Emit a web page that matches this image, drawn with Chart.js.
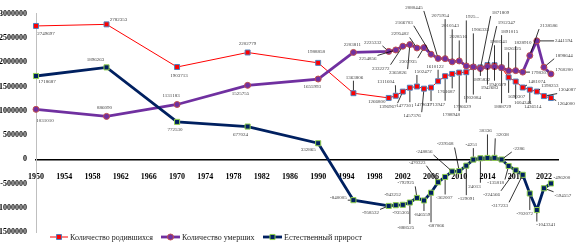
<!DOCTYPE html>
<html><head><meta charset="utf-8">
<script src="https://cdn.jsdelivr.net/npm/chart.js@4.4.1/dist/chart.umd.min.js"></script>
<style>html,body{margin:0;padding:0;background:#fff;overflow:hidden}#c{display:block}</style>
</head><body>
<canvas id="c" width="582" height="246" style="width:582px;height:246px"></canvas>
<script>
const years = [1950,1960,1970,1980,1990,1995,2000,2001,2002,2003,2004,2005,2006,2007,2008,2009,2010,2011,2012,2013,2014,2015,2016,2017,2018,2019,2020,2021,2022,2023];
const births = [2749697,2782353,1903713,2202779,1988858,1363806,1266800,1311604,1396967,1477301,1502477,1457376,1479637,1610122,1713947,1761687,1788948,1796629,1902084,1895822,1942683,1940579,1888729,1690307,1604344,1481074,1436514,1398253,1304087,1264000];
const deaths = [1031010,886090,1131183,1525755,1655993,2203811,2225332,2254856,2332272,2365826,2295402,2303935,2166703,2080445,2075954,2010543,2028516,1925720,1906335,1871809,1912347,1908541,1891015,1826125,1828910,1798307,2138586,2441594,1898644,1760200];
const natural = [1718687,1896263,772530,677024,332865,-840005,-958532,-943252,-935305,-888525,-792925,-846559,-687066,-470323,-362007,-248856,-239568,-129091,-4251,24013,30336,32038,-2286,-135818,-224566,-317233,-702072,-1043341,-594557,-496200];
const xTickLabels = [1950,1954,1958,1962,1966,1970,1974,1978,1982,1986,1990,1994,1998,2002,2006,2010,2014,2018,2022];
const yTickLabels = [-1500000,-1000000,-500000,0,500000,1000000,1500000,2000000,2500000,3000000];
const seriesNames = ['Количество родившихся','Количество умерших','Естественный прирост'];
const truncatedDeathLabel = {index: 17, text: '1925...'};

// label placement offsets (layout only, px relative to each point)
const birthOff = [[10,8],[12,-5],[2,9],[0,-9],[-2,-11],[1,-16],[-12,4],[-10,-14],[-15,15],[-5,18],[6,-15],[-12,27],[-8,17],[-3,-15],[-9,28],[-6,18],[-8,42],[-4,34],[-1,31],[1,12],[2,23],[3,19],[1,39],[8,19],[7,21],[14,-6],[3,17],[13,-6],[23,-6],[15,6]];
const deathOff = [[9,11],[-2,-9],[-6,-9],[-7,8],[-6,8],[-1,-8],[-16,-9],[-28,9],[-22,22],[-12,28],[-17,-14],[-16,14],[-27,-32],[-24,-51],[-5,-43],[-2,-36],[-1,-24],[6,-49],[7,-37],[20,-56],[19,-44],[4,-25],[8,-36],[4,-22],[7,-28],[17,1],[19,-30],[27,0],[20,-12],[13,-4]];
const natOff = [[11,6],[-11,-8],[-2,8],[-7,8],[-10,6],[-15,-2],[-18,7],[-3,-10],[-2,8],[-4,25],[-11,-15],[-2,14],[5,33],[-21,-20],[-1,21],[-28,-20],[-14,-27],[0,33],[-2,-15],[-6,28],[-2,-27],[8,-23],[17,-11],[-13,17],[-24,24],[-23,31],[-5,20],[9,15],[19,7],[11,-6]];
const offsets = [birthOff, deathOff, natOff];

const styles = [
  {line:'#ff0000', lw:1, fill:'#ff0000', border:'#4f81bd', shape:'rect', r:3.5},
  {line:'#7030a0', lw:2.8, fill:'#7030a0', border:'#c0504d', shape:'circle', r:3},
  {line:'#002060', lw:2.8, fill:'#002060', border:'#92d050', shape:'rect', r:3.6}
];
const seriesData = [births, deaths, natural];

const datasets = seriesData.map((arr, k) => ({
  label: seriesNames[k],
  data: years.map((y, i) => ({x: y, y: arr[i]})),
  borderColor: styles[k].line,
  borderWidth: styles[k].lw,
  backgroundColor: styles[k].fill,
  pointStyle: styles[k].shape,
  pointRadius: styles[k].r,
  pointBackgroundColor: styles[k].fill,
  pointBorderColor: styles[k].border,
  pointBorderWidth: 1,
  tension: 0,
  order: 2 - k,
  clip: false
}));

const labelPlugin = {
  id: 'labels',
  afterDatasetsDraw(chart) {
    const ctx = chart.ctx;
    ctx.save();
    ctx.font = '5px "Liberation Serif"';
    ctx.textAlign = 'center';
    ctx.textBaseline = 'middle';
    for (let k = 0; k < 3; k++) {
      const meta = chart.getDatasetMeta(k);
      meta.data.forEach((pt, i) => {
        let txt = String(seriesData[k][i]);
        if (k === 1 && i === truncatedDeathLabel.index) txt = truncatedDeathLabel.text;
        const [dx, dy] = offsets[k][i];
        const lx = pt.x + dx, ly = pt.y + dy;
        const w = ctx.measureText(txt).width, h = 5;
        if (Math.abs(dx) > 11 || Math.abs(dy) > 11) {
          const bx = Math.max(lx - w/2 - 1, Math.min(pt.x, lx + w/2 + 1));
          const by = Math.max(ly - h/2 - 1, Math.min(pt.y, ly + h/2 + 1));
          const vx = pt.x - bx, vy = pt.y - by, d = Math.hypot(vx, vy);
          if (d > 4) {
            ctx.strokeStyle = '#000';
            ctx.lineWidth = 0.8;
            ctx.beginPath();
            ctx.moveTo(bx, by);
            ctx.lineTo(pt.x - vx / d * 3, pt.y - vy / d * 3);
            ctx.stroke();
          }
        }
        ctx.fillStyle = '#404040';
        ctx.fillText(txt, lx, ly);
      });
    }
    ctx.restore();
  }
};

function drawMarker(ctx, s, x, y) {
  ctx.fillStyle = s.fill; ctx.strokeStyle = s.border; ctx.lineWidth = 1;
  ctx.beginPath();
  if (s.shape === 'circle') ctx.arc(x, y, s.r, 0, Math.PI*2);
  else { const q = s.r * Math.SQRT1_2; ctx.rect(x - q, y - q, 2*q, 2*q); }
  ctx.fill(); ctx.stroke();
}

const legendPlugin = {
  id: 'legendX',
  afterDraw(chart) {
    const ctx = chart.ctx;
    ctx.save();
    const y = 237;
    const items = [{x0:50, x1:68, tx:70}, {x0:161, x1:180, tx:182}, {x0:263, x1:282, tx:284}];
    ctx.font = '8px "Liberation Serif"';
    ctx.textBaseline = 'middle';
    ctx.textAlign = 'left';
    items.forEach((it, k) => {
      const s = styles[k];
      ctx.strokeStyle = s.line; ctx.lineWidth = s.lw;
      ctx.beginPath(); ctx.moveTo(it.x0, y); ctx.lineTo(it.x1, y); ctx.stroke();
      drawMarker(ctx, s, (it.x0 + it.x1) / 2, y);
      ctx.fillStyle = '#1a1a1a';
      ctx.fillText(seriesNames[k], it.tx, y + 0.5);
    });
    ctx.restore();
  }
};

new Chart(document.getElementById('c'), {
  type: 'line',
  data: { datasets },
  plugins: [labelPlugin, legendPlugin],
  options: {
    responsive: false,
    animation: false,
    events: [],
    layout: { padding: { top: 12, right: 24, bottom: 8, left: 0 } },
    plugins: { legend: { display: false }, tooltip: { enabled: false } },
    scales: {
      x: {
        type: 'linear',
        position: { y: 0 },
        min: 1950, max: 2024,
        afterBuildTicks(scale) { scale.ticks = xTickLabels.map(v => ({ value: v })); },
        grid: { display: false, drawTicks: false },
        border: { display: true, color: '#000', width: 1.5 },
        ticks: {
          autoSkip: false, maxRotation: 0, padding: 13,
          font: { family: 'Liberation Serif', size: 8, weight: 'bold' },
          color: '#000',
          callback: v => String(v)
        }
      },
      y: {
        type: 'linear',
        min: -1500000, max: 3000000,
        afterBuildTicks(scale) { scale.ticks = yTickLabels.map(v => ({ value: v })); },
        afterFit(scale) { scale.width = 36; },
        grid: { display: false, drawTicks: false },
        border: { display: true, color: '#bfbfbf', width: 1 },
        ticks: {
          padding: 9,
          font: { family: 'Liberation Serif', size: 8, weight: 'bold' },
          color: '#000',
          callback: v => String(v)
        }
      }
    }
  }
});
</script>
</body></html>
